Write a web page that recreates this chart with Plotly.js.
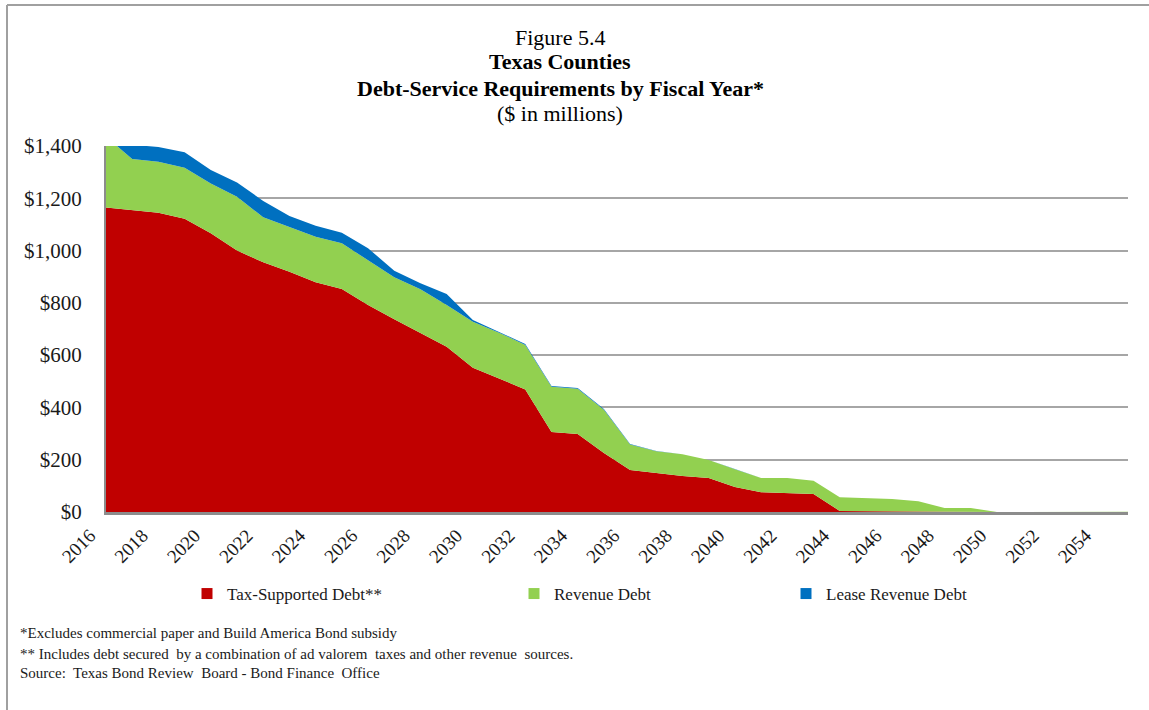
<!DOCTYPE html>
<html>
<head>
<meta charset="utf-8">
<script src="https://cdn.plot.ly/plotly-3.0.1.min.js"></script>
<style>
  html, body { margin: 0; padding: 0; background: #ffffff; }
  #chart { width: 1149px; height: 710px; }
</style>
</head>
<body>
<div id="chart"></div>
<script>
// Fiscal years
const years = [2016, 2017, 2018, 2019, 2020, 2021, 2022, 2023, 2024, 2025,
               2026, 2027, 2028, 2029, 2030, 2031, 2032, 2033, 2034, 2035,
               2036, 2037, 2038, 2039, 2040, 2041, 2042, 2043, 2044, 2045,
               2046, 2047, 2048, 2049, 2050, 2051, 2052, 2053, 2054, 2055];

// $ in millions (estimated from the figure)
const taxSupported = [1165, 1155, 1145, 1122, 1066, 1000, 955, 919, 879, 853,
                      792, 737, 686, 632, 552, 511, 469, 306, 298, 226,
                      161, 149, 138, 130, 96, 76, 73, 69, 4, 3,
                      2, 1, 0, 0, 0, 0, 0, 0, 0, 0];

const revenueDebt = [271, 195, 195, 195, 191, 206, 172, 172, 174, 175,
                     172, 161, 166, 160, 176, 175, 170, 173, 173, 165,
                     97, 83, 83, 69, 68, 54, 57, 51, 52, 51,
                     48, 40, 15, 15, 0, 0, 0, 0, 0, 1];

const leaseRevenue = [45, 55, 56, 59, 51, 54, 63, 41, 42, 40,
                      45, 25, 23, 42, 6, 4, 4, 3, 3, 3,
                      2, 1, 0, 0, 0, 0, 0, 0, 0, 0,
                      0, 0, 0, 0, 0, 0, 0, 0, 0, 0];

const tickYears = [2016, 2018, 2020, 2022, 2024, 2026, 2028, 2030, 2032, 2034,
                   2036, 2038, 2040, 2042, 2044, 2046, 2048, 2050, 2052, 2054];
const yTicks = [0, 200, 400, 600, 800, 1000, 1200, 1400];
const yTickText = ['$0', '$200', '$400', '$600', '$800', '$1,000', '$1,200', '$1,400'];

const seriesNames = ['Tax-Supported Debt**', 'Revenue Debt', 'Lease Revenue Debt'];
const seriesColors = ['#C00000', '#92D050', '#0070C0'];

const titleLines = ['Figure 5.4', '<b>Texas Counties</b>',
                    '<b>Debt-Service Requirements by Fiscal Year*</b>', '($ in millions)'];
const footnotes = ['*Excludes commercial paper and Build America Bond subsidy',
                   '** Includes debt secured  by a combination of ad valorem  taxes and other revenue  sources.',
                   'Source:  Texas Bond Review  Board - Bond Finance  Office'];

const FONT = 'Liberation Serif, Times New Roman, serif';

// Plot area in pixels
const L = 106, R = 1128, T = 146, B = 512, W = 1149, H = 710;
const px2x = p => (p - L) / (R - L);
const px2y = p => (B - p) / (B - T);

const seriesData = [taxSupported, revenueDebt, leaseRevenue];
const traces = seriesData.map((vals, i) => ({
  type: 'scatter',
  x: years,
  y: vals,
  name: seriesNames[i],
  stackgroup: 'one',
  mode: 'lines',
  line: { width: 0, color: seriesColors[i] },
  fillcolor: seriesColors[i],
  showlegend: false,
  hoverinfo: 'x+y+name'
}));

// Legend entries (square markers), each in its own legend box
const legendIds = ['legend', 'legend2', 'legend3'];
seriesNames.forEach((n, i) => {
  traces.push({
    type: 'scatter',
    x: [null], y: [null],
    mode: 'markers',
    name: n,
    marker: { symbol: 'square', size: 11, color: seriesColors[i] },
    showlegend: true,
    legend: legendIds[i],
    hoverinfo: 'skip'
  });
});

const legendPx = [187, 514, 786];
const legendBase = {
  orientation: 'h',
  yanchor: 'middle',
  xanchor: 'left',
  y: px2y(594),
  font: { family: FONT, size: 17, color: '#1a1a1a' },
  bgcolor: 'rgba(0,0,0,0)',
  itemclick: false,
  itemdoubleclick: false
};

const annotations = [];
const titleY = [38, 62, 88, 114];
titleLines.forEach((t, i) => {
  annotations.push({
    text: t, xref: 'paper', yref: 'paper',
    x: px2x(560), y: px2y(titleY[i]),
    xanchor: 'center', yanchor: 'middle',
    showarrow: false,
    font: { family: FONT, size: 22, color: '#000000' }
  });
});
const footY = [633, 654, 673];
footnotes.forEach((t, i) => {
  annotations.push({
    text: t, xref: 'paper', yref: 'paper',
    x: px2x(18), y: px2y(footY[i]),
    xanchor: 'left', yanchor: 'middle',
    showarrow: false,
    font: { family: FONT, size: 15, color: '#1a1a1a' }
  });
});

const layout = {
  width: W, height: H,
  margin: { l: L, r: W - R, t: T, b: H - B, pad: 0 },
  paper_bgcolor: '#ffffff',
  plot_bgcolor: '#ffffff',
  showlegend: true,
  legend: Object.assign({}, legendBase, { x: px2x(legendPx[0]) }),
  legend2: Object.assign({}, legendBase, { x: px2x(legendPx[1]) }),
  legend3: Object.assign({}, legendBase, { x: px2x(legendPx[2]) }),
  xaxis: {
    range: [2016, 2055],
    tickvals: tickYears,
    ticktext: tickYears.map(String),
    tickangle: -45,
    tickfont: { family: FONT, size: 19, color: '#1a1a1a' },
    ticklabelstandoff: 2,
    ticklabelshift: -16,
    showgrid: false,
    zeroline: false,
    showline: true,
    linecolor: '#8c8c8c',
    linewidth: 3,
    ticks: '',
    fixedrange: true
  },
  yaxis: {
    range: [0, 1400],
    tickvals: yTicks,
    ticktext: yTickText,
    tickfont: { family: FONT, size: 21, color: '#1a1a1a' },
    showgrid: true,
    gridcolor: '#a6a6a6',
    gridwidth: 2,
    zeroline: false,
    showline: true,
    linecolor: '#8c8c8c',
    linewidth: 2,
    ticks: '',
    ticklabelstandoff: 18,
    fixedrange: true
  },
  annotations: annotations,
  shapes: [
    { type: 'line', xref: 'paper', yref: 'paper',
      x0: px2x(7), x1: px2x(W + 5), y0: px2y(5), y1: px2y(5),
      line: { color: '#a0a0a0', width: 2 } },
    { type: 'line', xref: 'paper', yref: 'paper',
      x0: px2x(7), x1: px2x(7), y0: px2y(5), y1: px2y(H + 5),
      line: { color: '#a0a0a0', width: 2 } }
  ]
};

Plotly.newPlot('chart', traces, layout, { displayModeBar: false, staticPlot: true });
</script>
</body>
</html>
